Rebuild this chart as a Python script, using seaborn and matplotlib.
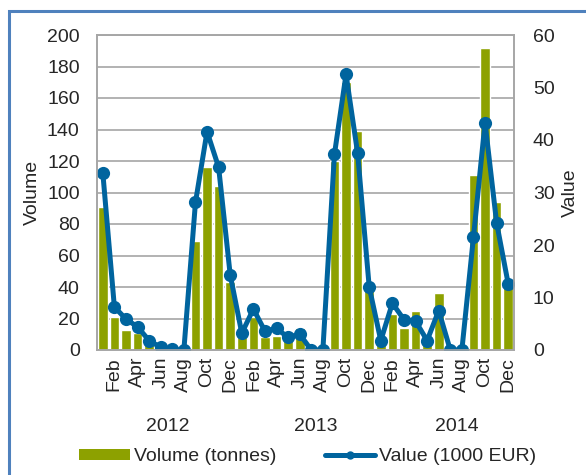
import numpy as np
import pandas as pd
import matplotlib
matplotlib.use("Agg")
import matplotlib.pyplot as plt
import matplotlib.transforms as mtransforms
from matplotlib.patches import Rectangle, Patch
from matplotlib.lines import Line2D
import seaborn as sns


# ---------------- DATA ----------------
years = ["2012", "2013", "2014"]
months = ["Jan", "Feb", "Mar", "Apr", "May", "Jun",
          "Jul", "Aug", "Sep", "Oct", "Nov", "Dec"]

volume_2012 = [91, 21, 13, 11, 4, 1, 0, 0, 69, 116, 104, 43]
volume_2013 = [8, 21, 8, 9, 10, 14, 0, 0, 120, 170, 139, 43]
volume_2014 = [6, 23, 14, 25, 5, 36, 0, 0, 111, 192, 94, 42]

value_2012 = [33.8, 8.2, 5.9, 4.4, 1.8, 0.5, 0.1, 0.0, 28.1, 41.6, 34.8, 14.3]
value_2013 = [3.2, 7.8, 3.6, 4.1, 2.4, 3.0, 0.0, 0.0, 37.3, 52.5, 37.5, 12.0]
value_2014 = [1.8, 8.9, 5.8, 5.5, 1.8, 7.5, 0.0, 0.0, 21.5, 43.3, 24.2, 12.6]

df = pd.DataFrame({
    "month": months * 3,
    "year": np.repeat(years, 12),
    "volume": volume_2012 + volume_2013 + volume_2014,
    "value": value_2012 + value_2013 + value_2014,
})
df["pos"] = np.arange(len(df))


# ---------------- STYLE ----------------
sns.set_style("white")
plt.rcParams["font.family"] = ["Liberation Sans", "DejaVu Sans"]
plt.rcParams["font.size"] = 14

bar_color = "#8DA100"
line_color = "#00649E"
grid_color = "#A6A6A6"

fig = plt.figure(figsize=(5.86, 4.75), dpi=100)
ax = fig.add_axes([97 / 586, 1 - 350 / 475, 417 / 586, 315 / 475])


# ---------------- BARS ----------------
sns.barplot(data=df, x="pos", y="volume", color=bar_color, saturation=1,
            width=0.84, ax=ax)
ax.set_axisbelow(True)
ax.yaxis.grid(True, color=grid_color, lw=1.2)
ax.set_ylim(0, 200)
ax.set_yticks(range(0, 201, 20))
ax.set_xlim(-0.5, 35.5)

ax.set_xticks(df["pos"][1::2])
ax.set_xticklabels(df["month"][1::2], rotation=90)
ax.tick_params(axis="both", length=0, labelsize=14)
ax.tick_params(axis="x", pad=5)
ax.tick_params(axis="y", pad=12.5)
ax.set_xlabel("")
ax.set_ylabel("Volume", fontsize=14)
ax.yaxis.set_label_coords(-0.134, 0.5)

for side in ["left", "right", "bottom", "top"]:
    ax.spines[side].set_color(grid_color)
    ax.spines[side].set_linewidth(1.2)


# ---------------- LINE ----------------
ax2 = ax.twinx()
sns.lineplot(data=df, x="pos", y="value", color=line_color, lw=3.6,
             marker="o", markersize=9.5, markeredgewidth=0, ax=ax2)
ax2.set_ylim(0, 60)
ax2.set_yticks(range(0, 61, 10))
ax2.tick_params(axis="y", length=0, labelsize=14, pad=13.5)
ax2.set_ylabel("Value", fontsize=14)
ax2.yaxis.set_label_coords(1.115, 0.5)
ax2.set_xlim(-0.5, 35.5)
for side in ["left", "right", "bottom", "top"]:
    ax2.spines[side].set_color(grid_color)
    ax2.spines[side].set_linewidth(1.2)


# ---------------- YEAR LABELS ----------------
trans = mtransforms.blended_transform_factory(ax.transData, ax.transAxes)
year_pos = [5.6, 18.4, 30.6]
for yr, xp in zip(years, year_pos):
    ax.text(xp, -0.242, yr, transform=trans, ha="center", va="center",
            fontsize=14)


# ---------------- LEGEND ----------------
handles = [
    Patch(facecolor=bar_color, edgecolor="none", label="Volume (tonnes)"),
    Line2D([], [], color=line_color, lw=3.6, marker="o", markersize=6,
           markeredgewidth=0, label="Value (1000 EUR)"),
]
fig.legend(handles=handles, loc="center", bbox_to_anchor=(0.525, 0.038),
           ncol=2, frameon=False, fontsize=14, handlelength=2.6,
           handleheight=0.55, handletextpad=0.2, columnspacing=2.5)


# ---------------- BORDER ----------------
fig.add_artist(Rectangle((9 / 586, -0.2), 1.2, 1.2 - 11 / 475,
                         transform=fig.transFigure, fill=False,
                         edgecolor="#4F81BD", lw=2.2))

fig.savefig("out.png", dpi=100)
plt.close()
